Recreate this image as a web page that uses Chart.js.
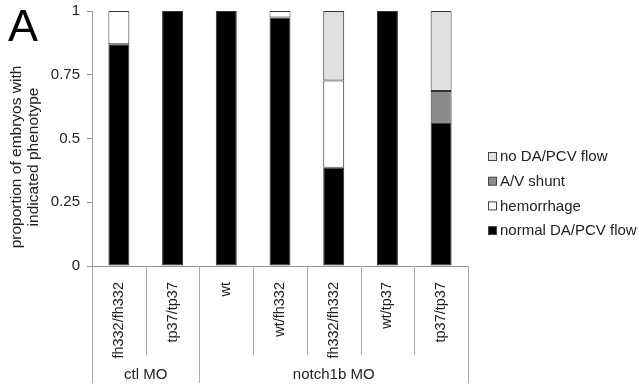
<!DOCTYPE html>
<html><head><meta charset="utf-8">
<script src="https://cdn.jsdelivr.net/npm/chart.js@4/dist/chart.umd.min.js"></script>
<style>html,body{margin:0;padding:0;background:#fff;}#wrap{width:639px;height:387px;position:relative;}</style>
</head><body><div id="wrap"><canvas id="c" width="639" height="387"></canvas></div>
<script>
const categories = ['fh332/fh332','tp37/tp37','wt','wt/fh332','fh332/fh332','wt/tp37','tp37/tp37'];
const groupLabels = ['ctl MO','notch1b MO'];
const groupSizes = [2,5];
const normalFlow = [0.87, 1, 1, 0.975, 0.385, 1, 0.562];
const hemorrhage = [0.13, 0, 0, 0.025, 0.342, 0, 0];
const avShunt = [0, 0, 0, 0, 0, 0, 0.124];
const noFlow = [0, 0, 0, 0, 0.273, 0, 0.314];
const yTicks = [0, 0.25, 0.5, 0.75, 1];
const yTitleLines = ['proportion of embryos with', 'indicated phenotype'];

const FONT = 'Liberation Sans, Arial, sans-serif';
const TXT = '#222';

const extras = {
  id: 'extras',
  afterDraw(chart) {
    const ctx = chart.ctx, xs = chart.scales.x, area = chart.chartArea;
    ctx.save();
    // panel letter
    ctx.fillStyle = '#000';
    ctx.font = '45px ' + FONT;
    ctx.textBaseline = 'alphabetic';
    ctx.textAlign = 'left';
    ctx.fillText('A', 8, 41);
    // y title
    ctx.save();
    ctx.fillStyle = TXT;
    ctx.font = '15.5px ' + FONT;
    ctx.textAlign = 'center';
    ctx.textBaseline = 'middle';
    ctx.translate(0, 157);
    ctx.rotate(-Math.PI / 2);
    yTitleLines.forEach((t, i) => ctx.fillText(t, 0, 17 + i * 17));
    ctx.restore();
    // separators
    const half = (xs.getPixelForValue(1) - xs.getPixelForValue(0)) / 2;
    ctx.strokeStyle = '#aaa';
    ctx.lineWidth = 1;
    let idx = 0;
    const groupEdges = [0];
    groupSizes.forEach(s => { idx += s; groupEdges.push(idx); });
    for (let i = 0; i <= categories.length; i++) {
      const x = Math.round(xs.getPixelForValue(i) - half) + 0.5;
      const isGroup = groupEdges.includes(i);
      ctx.beginPath();
      ctx.moveTo(x, area.bottom);
      ctx.lineTo(x, isGroup ? area.bottom + 117 : area.bottom + 89);
      ctx.stroke();
    }
    // group labels
    ctx.fillStyle = TXT;
    ctx.font = '15px ' + FONT;
    ctx.textAlign = 'center';
    ctx.textBaseline = 'middle';
    for (let g = 0; g < groupLabels.length; g++) {
      const a = xs.getPixelForValue(groupEdges[g]) - half;
      const b = xs.getPixelForValue(groupEdges[g + 1]) - half;
      ctx.fillText(groupLabels[g], (a + b) / 2, area.bottom + 109);
    }
    // legend (reverse order)
    const ds = chart.data.datasets.slice().reverse();
    const lx = 488, ly0 = 157, step = 24.7;
    ctx.textAlign = 'left';
    ctx.font = '15px ' + FONT;
    ds.forEach((d, i) => {
      const y = ly0 + i * step;
      ctx.fillStyle = d.backgroundColor;
      ctx.fillRect(lx + 0.5, y - 4.5, 8, 8);
      ctx.strokeStyle = '#444';
      ctx.strokeRect(lx + 0.5, y - 4.5, 8, 8);
      ctx.fillStyle = TXT;
      ctx.fillText(d.label, lx + 12, y);
    });
    ctx.restore();
  }
};

const mk = (label, data, color) => ({
  label, data, backgroundColor: color, borderColor: '#333', borderWidth: 1,
  borderSkipped: false, barPercentage: 0.39, categoryPercentage: 1
});

new Chart(document.getElementById('c'), {
  type: 'bar',
  data: {
    labels: categories,
    datasets: [
      mk('normal DA/PCV flow', normalFlow, '#000000'),
      mk('hemorrhage', hemorrhage, '#ffffff'),
      mk('A/V shunt', avShunt, '#8a8a8a'),
      mk('no DA/PCV flow', noFlow, '#e0e0e0')
    ]
  },
  options: {
    responsive: false,
    animation: false,
    devicePixelRatio: 1,
    layout: { padding: { left: 0, top: 11, right: 171, bottom: 0 } },
    plugins: { legend: { display: false }, tooltip: { enabled: false } },
    scales: {
      x: {
        stacked: true,
        grid: { display: false },
        border: { display: true, color: '#999' },
        ticks: { minRotation: 90, maxRotation: 90, autoSkip: false, padding: 8, color: TXT, font: { size: 14.5, family: FONT } },
        afterFit(s) { s.height = 121; s.paddingLeft = 0; s.paddingRight = 0; }
      },
      y: {
        stacked: true,
        min: 0, max: 1,
        afterBuildTicks(s) { s.ticks = yTicks.map(v => ({ value: v })); },
        grid: { drawOnChartArea: false, drawTicks: true, tickLength: 5, color: '#999' },
        border: { display: true, color: '#999' },
        ticks: { padding: 7, color: TXT, font: { size: 15, family: FONT }, callback: v => String(v) },
        afterFit(s) { s.width = 92; s.paddingTop = 0; s.paddingBottom = 0; }
      }
    }
  },
  plugins: [extras]
});
</script></body></html>
